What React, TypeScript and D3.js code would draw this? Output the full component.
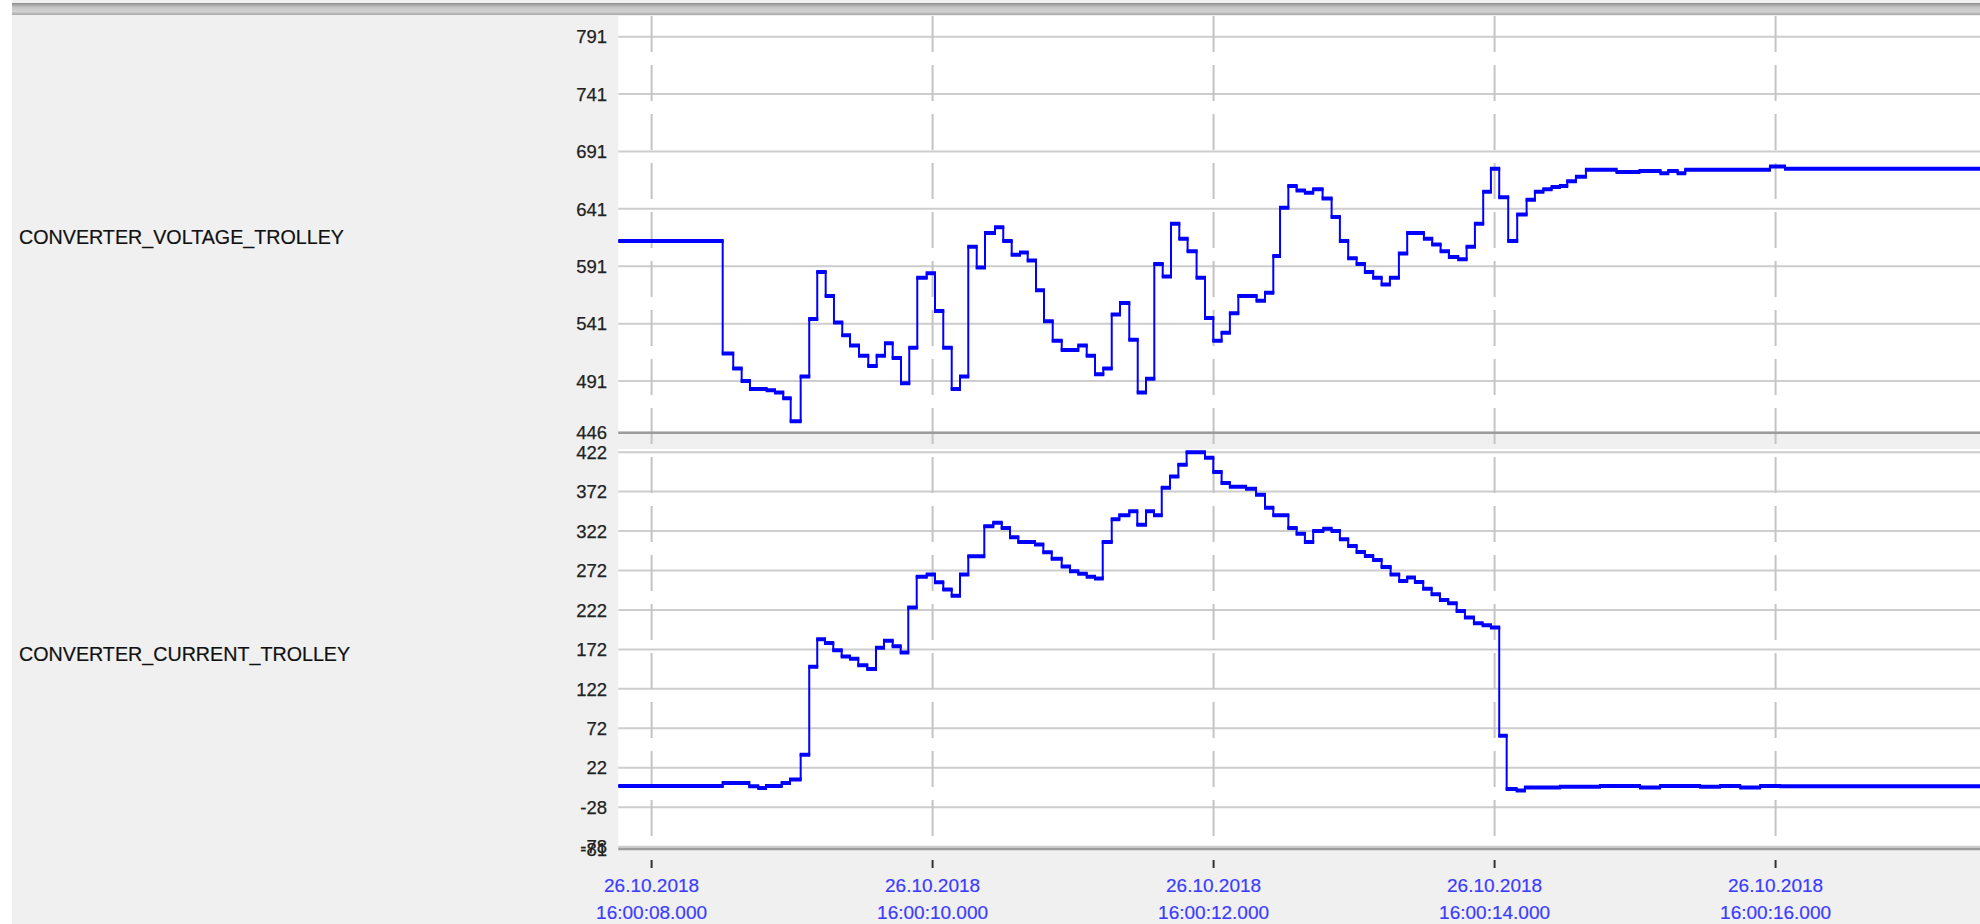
import React from "react";
import * as d3 from "d3";

// ---- data (time offsets in ms from 26.10.2018 16:00:08.000) ----
const startDate = new Date(2018, 9, 26, 16, 0, 8, 0);
const domainStartMs = -237;
const domainEndMs = 9455;

const voltageMs = [
  -240, 506, 581, 641, 700, 819, 878, 937, 990, 1061, 1122, 1179, 1239, 1298, 1357, 1412, 1476, 1542, 1602, 1661,
  1716, 1775, 1834, 1891, 1958, 2017, 2076, 2136, 2195, 2254, 2314, 2373, 2444, 2503, 2563, 2622, 2677, 2736, 2793,
  2855, 2919, 3037, 3097, 3156, 3215, 3275, 3334, 3400, 3460, 3519, 3578, 3638, 3697, 3756, 3815, 3879, 3939, 3998,
  4057, 4116, 4176, 4306, 4366, 4425, 4473, 4532, 4591, 4650, 4709, 4776, 4840, 4899, 4958, 5018, 5077, 5136, 5196,
  5255, 5319, 5378, 5497, 5556, 5616, 5675, 5741, 5801, 5860, 5919, 5974, 6033, 6097, 6161, 6228, 6287, 6347, 6406,
  6465, 6517, 6579, 6650, 6868, 7031, 7181, 7236, 7303, 7357, 7960, 8067,
];
const voltageVal = [
  613, 515, 502, 491, 484, 483, 481, 476, 456, 495, 545, 586, 565, 542, 531, 522, 513, 504, 513, 524,
  511, 489, 520, 581, 585, 552, 520, 484, 495, 608, 590, 620, 625, 613, 601, 603, 596, 570, 543,
  526, 518, 522, 513, 497, 502, 549, 559, 527, 481, 493, 593, 582, 628, 615, 604, 581, 546, 526,
  533, 550, 565, 561, 568, 600, 642, 661, 657, 655, 658, 650, 634, 613, 598, 593, 586, 581, 575,
  581, 602, 620, 615, 610, 604, 599, 597, 608, 628, 656, 676, 651, 613, 636, 649, 656, 658, 660,
  661, 665, 669, 675, 673, 674, 672, 674, 672, 675, 678, 676,
];

const currentMs = [
  -240, 506, 695, 759, 814, 926, 985, 1061, 1122, 1179, 1234, 1293, 1353, 1412, 1471, 1535, 1597, 1654, 1716, 1773,
  1827, 1887, 1958, 2017, 2076, 2136, 2195, 2254, 2368, 2432, 2492, 2551, 2610, 2729, 2788, 2848, 2919, 2978, 3037,
  3097, 3156, 3211, 3275, 3329, 3400, 3457, 3519, 3576, 3631, 3690, 3749, 3808, 3939, 3998, 4057, 4116, 4231, 4302,
  4366, 4425, 4532, 4591, 4650, 4709, 4781, 4840, 4899, 4958, 5018, 5077, 5136, 5196, 5260, 5321, 5378, 5433, 5492,
  5552, 5611, 5670, 5730, 5789, 5853, 5915, 5974, 6033, 6086, 6157, 6216, 6465, 6750, 7035, 7178, 7463, 7605, 7748,
  7890, 8032,
];
const currentVal = [
  -1, 2.5, -1.6, -3.7, -1, 2.5, 7, 38.5, 150, 185, 180, 171, 163, 160, 152, 147, 174, 183, 176, 168,
  225, 264, 267, 257, 248, 240, 267, 290, 328, 332.5, 326, 314, 308, 305, 295, 287, 277, 271, 268,
  264, 262, 308, 337, 342, 347, 330, 347, 342, 377, 391, 406, 422, 415, 397, 383, 378, 375.6, 368,
  351.5, 342, 326, 318.6, 308, 322, 325, 322, 311.5, 303, 295.4, 290.4, 285.3, 276.4, 267, 258.7, 263, 257.4, 249,
  241.8, 234.7, 230.4, 220.7, 212.3, 205, 202.6, 199.6, 62.5, -5, -7, -3, -2, -1, -3, -1, -2, -1, -3,
  -1, -1.5,
];

const voltageTicks = [446, 491, 541, 591, 641, 691, 741, 791];
const currentTicks = [-81, -78, -28, 22, 72, 122, 172, 222, 272, 322, 372, 422];
const seriesNames = ["CONVERTER_VOLTAGE_TROLLEY", "CONVERTER_CURRENT_TROLLEY"];
const voltageDomain = [446, 809];
const currentDomain = [-81, 426];

// ---- layout ----
const W = 1980;
const H = 924;
const plotLeft = 618.3;
const plotRight = 1980;
const vTop = 16;
const vBottom = 432.7;
const cTop = 449;
const cBottom = 849;
const FONT = "'Liberation Sans', Arial, sans-serif";

function Panel({ ms, vals, y, clipId, top, bottom, x }) {
  const pts = ms.map((t, i) => ({ t, v: vals[i] }));
  pts.push({ t: domainEndMs, v: vals[vals.length - 1] });
  const line = d3
    .line<{ t: number; v: number }>()
    .x((d) => x(new Date(+startDate + d.t)))
    .y((d) => y(d.v))
    .curve(d3.curveStepAfter);
  const hSegs = ms
    .map((t, i) => {
      const t2 = i + 1 < ms.length ? ms[i + 1] : domainEndMs;
      const yy = y(vals[i]);
      return `M${x(new Date(+startDate + t)) - 1},${yy}H${x(new Date(+startDate + t2)) + 1}`;
    })
    .join("");
  return (
    <g>
      <clipPath id={clipId}>
        <rect x={plotLeft} y={top} width={plotRight - plotLeft} height={bottom - top} />
      </clipPath>
      <g clipPath={`url(#${clipId})`}>
        <path d={line(pts) || ""} fill="none" stroke="#0000ff" strokeWidth={2} />
        <path d={hSegs} fill="none" stroke="#0000ff" strokeWidth={4} />
      </g>
    </g>
  );
}

export default function App() {
  const x = d3
    .scaleTime()
    .domain([new Date(+startDate + domainStartMs), new Date(+startDate + domainEndMs)])
    .range([plotLeft, plotRight]);
  const yV = d3.scaleLinear().domain(voltageDomain).range([vBottom, vTop]);
  const yC = d3.scaleLinear().domain(currentDomain).range([cBottom, cTop]);
  const xTicks = x.ticks(d3.timeSecond.every(2));
  const fmtDate = d3.timeFormat("%d.%m.%Y");
  const fmtTime = d3.timeFormat("%H:%M:%S.%L");

  return (
    <div style={{ position: "fixed", left: 0, top: 0, width: W, height: H, background: "#fff" }}>
      <svg width={W} height={H} style={{ display: "block" }}>
        <defs>
          <linearGradient id="topbar" x1="0" y1="0" x2="0" y2="1">
            <stop offset="0" stopColor="#8c8c8c" />
            <stop offset="0.35" stopColor="#c4c4c4" />
            <stop offset="0.7" stopColor="#d2d2d2" />
            <stop offset="1" stopColor="#a8a8a8" />
          </linearGradient>
        </defs>
        {/* background panels */}
        <rect x={12} y={0} width={W - 12} height={H} fill="#f0f0f0" />
        <rect x={12} y={3} width={W - 12} height={12} fill="url(#topbar)" />
        <rect x={plotLeft} y={vTop} width={plotRight - plotLeft} height={vBottom - vTop} fill="#ffffff" />
        <rect x={plotLeft} y={cTop} width={plotRight - plotLeft} height={cBottom - cTop} fill="#ffffff" />

        {/* horizontal grid - voltage */}
        {voltageTicks.map((t) => (
          <line key={"gv" + t} x1={plotLeft} x2={plotRight} y1={yV(t)} y2={yV(t)} stroke="#cdcdcd" strokeWidth={2} />
        ))}
        {/* horizontal grid - current */}
        {currentTicks.map((t) => (
          <line key={"gc" + t} x1={plotLeft} x2={plotRight} y1={yC(t)} y2={yC(t)} stroke="#cdcdcd" strokeWidth={2} />
        ))}

        {/* vertical dashed grid */}
        {xTicks.map((d) => (
          <line
            key={"vx" + +d}
            x1={x(d)}
            x2={x(d)}
            y1={vTop}
            y2={cBottom}
            stroke="#c4c4c4"
            strokeWidth={2}
            strokeDasharray="36 13"
          />
        ))}

        {/* panel bottom borders */}
        <line x1={plotLeft} x2={plotRight} y1={vBottom} y2={vBottom} stroke="#9c9c9c" strokeWidth={2.5} />
        <line x1={plotLeft} x2={plotRight} y1={cBottom} y2={cBottom} stroke="#9c9c9c" strokeWidth={2.5} />

        {/* series */}
        <Panel ms={voltageMs} vals={voltageVal} y={yV} clipId="clipV" top={vTop} bottom={vBottom} x={x} />
        <Panel ms={currentMs} vals={currentVal} y={yC} clipId="clipC" top={cTop} bottom={cBottom} x={x} />

        {/* y tick labels */}
        {voltageTicks.map((t) => (
          <text key={"lv" + t} x={607} y={yV(t)} dy="0.36em" textAnchor="end" fontFamily={FONT} fontSize={18.5} fill="#222" stroke="#222" strokeWidth={0.25}>
            {t}
          </text>
        ))}
        {currentTicks.map((t) => (
          <text key={"lc" + t} x={607} y={yC(t)} dy="0.36em" textAnchor="end" fontFamily={FONT} fontSize={18.5} fill="#222" stroke="#222" strokeWidth={0.25}>
            {t}
          </text>
        ))}

        {/* x ticks and labels */}
        {xTicks.map((d) => (
          <g key={"xt" + +d}>
            <line x1={x(d)} x2={x(d)} y1={860} y2={868} stroke="#333" strokeWidth={2} />
            <text x={x(d)} y={892} textAnchor="middle" fontFamily={FONT} fontSize={19} fill="#3c3cff" stroke="#3c3cff" strokeWidth={0.2}>
              {fmtDate(d)}
            </text>
            <text x={x(d)} y={919} textAnchor="middle" fontFamily={FONT} fontSize={19} fill="#3c3cff" stroke="#3c3cff" strokeWidth={0.2}>
              {fmtTime(d)}
            </text>
          </g>
        ))}

        {/* series names */}
        <text x={19} y={yV(591) - 22} fontFamily={FONT} fontSize={19.7} fill="#111" stroke="#111" strokeWidth={0.2}>
          {seriesNames[0]}
        </text>
        <text x={19} y={yC(172) + 12} fontFamily={FONT} fontSize={19.7} fill="#111" stroke="#111" strokeWidth={0.2}>
          {seriesNames[1]}
        </text>
      </svg>
    </div>
  );
}
